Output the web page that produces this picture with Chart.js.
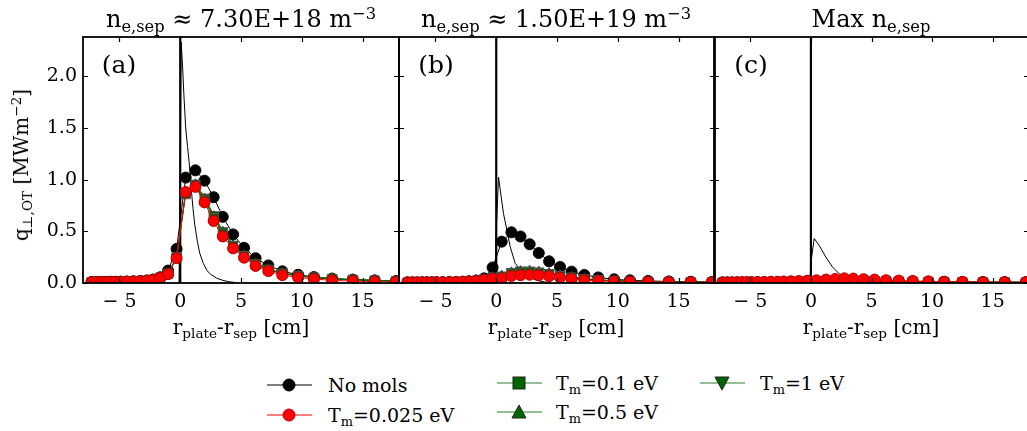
<!DOCTYPE html>
<html>
<head>
<meta charset="utf-8">
<script src="https://cdn.jsdelivr.net/npm/chart.js@4.4.1/dist/chart.umd.min.js"></script>
<style>
body { margin: 0; background: #fff; overflow: hidden; }
#wrap { position: relative; width: 1027px; height: 431px; overflow: hidden; font-family: "DejaVu Serif", serif; color: #000; }
#wrap canvas { position: absolute; top: 0; }
.txt { position: absolute; white-space: nowrap; transform: translate(-50%, -50%); line-height: 1; }
.sb { font-size: 0.68em; position: relative; top: 0.3em; }
.sp { font-size: 0.68em; position: relative; top: -0.5em; }
.leg { position: absolute; white-space: nowrap; font-size: 19px; line-height: 1; transform: translateY(-50%); }
.icon { position: absolute; }
</style>
</head>
<body>
<div id="wrap">
  <canvas id="pa" width="410" height="320"></canvas>
  <canvas id="pb" width="340" height="320"></canvas>
  <canvas id="pc" width="340" height="320"></canvas>

  <div class="txt" style="left:241px;top:19px;font-size:24px">n<span class="sb">e,sep</span> &#8776; 7.30E+18 m<span class="sp">&#8722;3</span></div>
  <div class="txt" style="left:556px;top:19px;font-size:24px">n<span class="sb">e,sep</span> &#8776; 1.50E+19 m<span class="sp">&#8722;3</span></div>
  <div class="txt" style="left:871px;top:19px;font-size:24px">Max n<span class="sb">e,sep</span></div>

  <div class="txt" style="left:119px;top:64px;font-size:25px">(a)</div>
  <div class="txt" style="left:436px;top:64px;font-size:25px">(b)</div>
  <div class="txt" style="left:751px;top:64px;font-size:25px">(c)</div>

  <div class="txt" style="left:21px;top:165px;font-size:20px;transform:translate(-50%,-50%) rotate(-90deg)">q<span class="sb">&#8869;,OT</span> [MWm<span class="sp">&#8722;2</span>]</div>

  <div class="txt" style="left:241px;top:327px;font-size:20px">r<span class="sb">plate</span>-r<span class="sb">sep</span> [cm]</div>
  <div class="txt" style="left:556px;top:327px;font-size:20px">r<span class="sb">plate</span>-r<span class="sb">sep</span> [cm]</div>
  <div class="txt" style="left:871px;top:327px;font-size:20px">r<span class="sb">plate</span>-r<span class="sb">sep</span> [cm]</div>

  <div id="legend"></div>
</div>

<script>
// shared radial grid of the markers [cm]
const rPos = [-7.3, -6.9, -6.5, -6.1, -5.7, -5.3, -4.9, -4.4, -3.85, -3.3, -2.75, -2.25, -1.65, -1.0, -0.3,
              0.45, 1.25, 2.0, 2.75, 3.5, 4.35, 5.25, 6.2, 7.25, 8.4, 9.7, 11.0, 12.5, 14.2, 16.0, 17.75];

// panel (a)
const noMolsA = [0.010, 0.010, 0.011, 0.011, 0.012, 0.012, 0.013, 0.014, 0.016, 0.019, 0.024, 0.033, 0.055, 0.12, 0.33,
                 1.02, 1.09, 0.99, 0.83, 0.64, 0.47, 0.34, 0.24, 0.17, 0.113, 0.080, 0.057, 0.042, 0.032, 0.025, 0.019];
const tm0025A = [0.008, 0.008, 0.009, 0.009, 0.010, 0.010, 0.011, 0.012, 0.014, 0.017, 0.022, 0.030, 0.050, 0.085, 0.24,
                 0.88, 0.93, 0.78, 0.60, 0.45, 0.335, 0.245, 0.165, 0.115, 0.076, 0.054, 0.039, 0.025, 0.019, 0.013, 0.010];
const tm01A   = [0.008, 0.008, 0.009, 0.009, 0.010, 0.010, 0.011, 0.012, 0.014, 0.017, 0.022, 0.031, 0.052, 0.09, 0.25,
                 0.86, 0.94, 0.80, 0.63, 0.48, 0.355, 0.26, 0.18, 0.128, 0.090, 0.068, 0.052, 0.040, 0.031, 0.024, 0.019];
const tm05A   = [0.008, 0.008, 0.009, 0.009, 0.010, 0.010, 0.011, 0.012, 0.014, 0.017, 0.022, 0.031, 0.052, 0.09, 0.25,
                 0.87, 0.95, 0.81, 0.64, 0.49, 0.36, 0.265, 0.185, 0.131, 0.093, 0.070, 0.053, 0.041, 0.032, 0.025, 0.019];
const tm1A    = [0.008, 0.008, 0.009, 0.009, 0.010, 0.010, 0.011, 0.012, 0.014, 0.017, 0.023, 0.032, 0.053, 0.09, 0.25,
                 0.88, 0.965, 0.83, 0.66, 0.505, 0.375, 0.275, 0.19, 0.135, 0.097, 0.072, 0.055, 0.042, 0.033, 0.026, 0.020];
const fitXA = [-0.1, 0.0, 0.08, 0.2, 0.3, 0.45, 0.6, 0.75, 0.9, 1.05, 1.2, 1.4, 1.6, 1.9, 2.2, 2.5, 3.0, 3.5, 4.0, 4.5];
const fitYA = [0.0, 1.1, 2.33, 2.08, 1.82, 1.5, 1.32, 1.15, 0.92, 0.72, 0.56, 0.41, 0.29, 0.19, 0.12, 0.085, 0.046, 0.026, 0.012, 0.005];

// panel (b)
const noMolsB = [0.006, 0.006, 0.006, 0.007, 0.007, 0.007, 0.008, 0.008, 0.009, 0.010, 0.012, 0.016, 0.024, 0.045, 0.15,
                 0.40, 0.49, 0.45, 0.375, 0.29, 0.21, 0.155, 0.11, 0.078, 0.054, 0.036, 0.026, 0.020, 0.015, 0.012, 0.010];
const tm0025B = [0.005, 0.005, 0.005, 0.006, 0.006, 0.006, 0.007, 0.007, 0.008, 0.009, 0.011, 0.014, 0.019, 0.030, 0.042,
                 0.045, 0.068, 0.075, 0.080, 0.075, 0.066, 0.052, 0.040, 0.027, 0.020, 0.015, 0.012, 0.010, 0.008, 0.007, 0.006];
const tm01B   = [0.005, 0.005, 0.006, 0.006, 0.006, 0.007, 0.007, 0.008, 0.009, 0.010, 0.012, 0.016, 0.022, 0.035, 0.050,
                 0.060, 0.090, 0.100, 0.105, 0.098, 0.085, 0.068, 0.052, 0.038, 0.028, 0.021, 0.016, 0.012, 0.010, 0.008, 0.007];
const tm05B   = [0.005, 0.005, 0.006, 0.006, 0.006, 0.007, 0.007, 0.008, 0.009, 0.010, 0.012, 0.016, 0.023, 0.036, 0.052,
                 0.066, 0.098, 0.110, 0.113, 0.105, 0.091, 0.073, 0.055, 0.040, 0.029, 0.022, 0.017, 0.013, 0.010, 0.008, 0.007];
const tm1B    = [0.005, 0.005, 0.006, 0.006, 0.006, 0.007, 0.007, 0.008, 0.009, 0.010, 0.012, 0.017, 0.024, 0.037, 0.055,
                 0.075, 0.110, 0.125, 0.125, 0.115, 0.100, 0.080, 0.060, 0.043, 0.031, 0.023, 0.018, 0.013, 0.011, 0.009, 0.007];
const fitXB = [-0.1, 0.0, 0.19, 0.33, 0.6, 0.88, 1.15, 1.56, 2.24, 3.3, 4.3];
const fitYB = [0.0, 0.5, 1.025, 0.9, 0.67, 0.51, 0.35, 0.19, 0.09, 0.026, 0.003];

// panel (c)
const noMolsC = [0.005, 0.005, 0.005, 0.006, 0.006, 0.006, 0.007, 0.007, 0.008, 0.008, 0.009, 0.010, 0.011, 0.012, 0.013,
                 0.015, 0.016, 0.016, 0.016, 0.015, 0.015, 0.014, 0.013, 0.012, 0.011, 0.010, 0.010, 0.009, 0.009, 0.008, 0.008];
const tm0025C = [0.005, 0.006, 0.006, 0.007, 0.007, 0.008, 0.008, 0.009, 0.010, 0.011, 0.012, 0.014, 0.016, 0.019, 0.022,
                 0.026, 0.033, 0.039, 0.045, 0.043, 0.037, 0.033, 0.027, 0.023, 0.020, 0.016, 0.013, 0.011, 0.009, 0.008, 0.007];
const tm01C   = [0.004, 0.004, 0.005, 0.005, 0.005, 0.006, 0.006, 0.006, 0.007, 0.008, 0.008, 0.009, 0.011, 0.013, 0.014,
                 0.016, 0.020, 0.024, 0.027, 0.026, 0.023, 0.020, 0.017, 0.015, 0.013, 0.011, 0.010, 0.009, 0.008, 0.007, 0.006];
const tm05C   = [0.004, 0.004, 0.005, 0.005, 0.005, 0.006, 0.006, 0.006, 0.007, 0.008, 0.008, 0.009, 0.011, 0.013, 0.014,
                 0.017, 0.021, 0.025, 0.028, 0.027, 0.024, 0.021, 0.018, 0.015, 0.013, 0.011, 0.010, 0.009, 0.008, 0.007, 0.006];
const tm1C    = [0.004, 0.004, 0.005, 0.005, 0.005, 0.006, 0.006, 0.006, 0.007, 0.008, 0.009, 0.010, 0.011, 0.013, 0.015,
                 0.018, 0.022, 0.026, 0.029, 0.028, 0.025, 0.022, 0.018, 0.016, 0.014, 0.012, 0.010, 0.009, 0.008, 0.007, 0.006];
const fitXC = [-0.1, 0.0, 0.27, 0.68, 1.23, 1.78, 2.33, 3.15, 3.97];
const fitYC = [0.0, 0.2, 0.43, 0.365, 0.25, 0.155, 0.09, 0.036, 0.01];

// axes
const xTicks = [-5, 0, 5, 10, 15];
const yTicks = [0.0, 0.5, 1.0, 1.5, 2.0];
const xMin = -8, xMax = 18, yMin = 0, yMax = 2.38;
const sepX = [0, 0];
const sepY = [yMin, yMax];

const FONT = "DejaVu Serif";
const GREEN = "#006400";

function pts(xs, ys) {
    return xs.map((x, i) => ({ x: x, y: ys[i] }));
}

function series(label, ys, color, style, rot, order, edge) {
    return {
        label: label,
        data: pts(rPos, ys),
        showLine: true,
        borderColor: color,
        borderWidth: 1,
        pointStyle: style,
        rotation: rot,
        pointRadius: style === "circle" ? 5.5 : (style === "rect" ? 6.5 : 6),
        pointBackgroundColor: color,
        pointBorderColor: edge,
        pointBorderWidth: 1,
        order: order
    };
}

// frame + inward ticks on all four sides, like the matplotlib axes
const framePlugin = {
    id: "frame",
    afterDatasetsDraw(chart) {
        const ctx = chart.ctx, a = chart.chartArea;
        const xs = chart.scales.x, ys = chart.scales.y;
        ctx.save();
        ctx.strokeStyle = "#000";
        ctx.lineWidth = 1.2;
        ctx.beginPath();
        xTicks.forEach(v => {
            const px = Math.round(xs.getPixelForValue(v)) + 0.5;
            ctx.moveTo(px, a.bottom); ctx.lineTo(px, a.bottom - 5);
            ctx.moveTo(px, a.top); ctx.lineTo(px, a.top + 5);
        });
        yTicks.forEach(v => {
            const py = Math.round(ys.getPixelForValue(v)) + 0.5;
            ctx.moveTo(a.left, py); ctx.lineTo(a.left + 5, py);
            ctx.moveTo(a.right, py); ctx.lineTo(a.right - 5, py);
        });
        ctx.stroke();
        ctx.lineWidth = 1.8;
        ctx.strokeRect(a.left, a.top, a.right - a.left, a.bottom - a.top);
        ctx.restore();
    }
};

function makePanel(id, left, p) {
    const cv = document.getElementById(id);
    cv.style.left = left + "px";
    new Chart(cv, {
        type: "scatter",
        data: {
            datasets: [
                { label: "sep", data: pts(sepX, sepY), showLine: true, borderColor: "#000", borderWidth: 2.2, pointRadius: 0, order: 7 },
                { label: "fit", data: pts(p.fitX, p.fitY), showLine: true, borderColor: "#000", borderWidth: 1, pointRadius: 0, order: 6 },
                series("No mols", p.noMols, "#000", "circle", 0, 5, "#000"),
                series("Tm=1 eV", p.tm1, GREEN, "triangle", 180, 4, "#3c3c3c"),
                series("Tm=0.5 eV", p.tm05, GREEN, "triangle", 0, 3, "#3c3c3c"),
                series("Tm=0.1 eV", p.tm01, GREEN, "rect", 0, 2, "#555"),
                series("Tm=0.025 eV", p.tm0025, "#ff0000", "circle", 0, 1, "#b00000")
            ]
        },
        options: {
            responsive: false,
            animation: false,
            layout: { padding: { left: p.padL, right: p.padR, top: 37, bottom: 0 } },
            plugins: { legend: { display: false }, tooltip: { enabled: false } },
            elements: { line: { tension: 0 } },
            scales: {
                x: {
                    type: "linear", min: xMin, max: xMax,
                    grid: { display: false, drawTicks: false },
                    border: { display: false },
                    afterBuildTicks: s => { s.ticks = xTicks.map(v => ({ value: v })); },
                    afterFit: s => { s.height = 320 - 283; },
                    ticks: {
                        color: "#000", padding: 8, maxRotation: 0,
                        font: { family: FONT, size: 19 },
                        callback: v => v < 0 ? "\u2212 " + (-v) : String(v)
                    }
                },
                y: {
                    type: "linear", min: yMin, max: yMax,
                    grid: { display: false, drawTicks: false },
                    border: { display: false },
                    afterBuildTicks: s => { s.ticks = yTicks.map(v => ({ value: v })); },
                    afterFit: s => { s.width = p.yW; },
                    ticks: {
                        display: p.showY, color: "#000", padding: 6,
                        font: { family: FONT, size: 19 },
                        callback: v => v.toFixed(1)
                    }
                }
            }
        },
        plugins: [framePlugin]
    });
}

makePanel("pa", 0, { padL: 0, padR: 11, yW: 83, showY: true,
    noMols: noMolsA, tm0025: tm0025A, tm01: tm01A, tm05: tm05A, tm1: tm1A, fitX: fitXA, fitY: fitYA });
makePanel("pb", 389, { padL: 10, padR: 14, yW: 0, showY: false,
    noMols: noMolsB, tm0025: tm0025B, tm01: tm01B, tm05: tm05B, tm1: tm1B, fitX: fitXB, fitY: fitYB });
makePanel("pc", 704, { padL: 10, padR: 15, yW: 0, showY: false,
    noMols: noMolsC, tm0025: tm0025C, tm01: tm01C, tm05: tm05C, tm1: tm1C, fitX: fitXC, fitY: fitYC });

// legend (html so the subscripts stay real text)
const legItems = [
    { html: "No mols", line: "#000", fill: "#000", edge: "#000", shape: "circle", ix: 267, tx: 328, cy: 385 },
    { html: "T<span class='sb'>m</span>=0.025 eV", line: "#ff0000", fill: "#ff0000", edge: "#b00000", shape: "circle", ix: 267, tx: 328, cy: 415 },
    { html: "T<span class='sb'>m</span>=0.1 eV", line: "#2f7f2f", fill: GREEN, edge: "#222", shape: "square", ix: 497, tx: 556, cy: 383 },
    { html: "T<span class='sb'>m</span>=0.5 eV", line: "#2f7f2f", fill: GREEN, edge: "#222", shape: "up", ix: 497, tx: 556, cy: 412 },
    { html: "T<span class='sb'>m</span>=1 eV", line: "#2f7f2f", fill: GREEN, edge: "#222", shape: "down", ix: 700, tx: 760, cy: 383 }
];
const legEl = document.getElementById("legend");
legItems.forEach(it => {
    let mk;
    if (it.shape === "circle") mk = `<circle cx="22" cy="12" r="6" fill="${it.fill}" stroke="${it.edge}" stroke-width="1"/>`;
    else if (it.shape === "square") mk = `<rect x="16" y="6" width="12" height="12" fill="${it.fill}" stroke="${it.edge}" stroke-width="1"/>`;
    else if (it.shape === "up") mk = `<polygon points="22,5 29,18 15,18" fill="${it.fill}" stroke="${it.edge}" stroke-width="1"/>`;
    else mk = `<polygon points="15,6 29,6 22,19" fill="${it.fill}" stroke="${it.edge}" stroke-width="1"/>`;
    const svg = `<svg class="icon" width="46" height="24" style="left:${it.ix}px;top:${it.cy - 12}px">` +
        `<line x1="0" y1="12" x2="45" y2="12" stroke="${it.line}" stroke-width="1.2"/>${mk}</svg>`;
    legEl.insertAdjacentHTML("beforeend", svg +
        `<div class="leg" style="left:${it.tx}px;top:${it.cy}px">${it.html}</div>`);
});
</script>
</body>
</html>
